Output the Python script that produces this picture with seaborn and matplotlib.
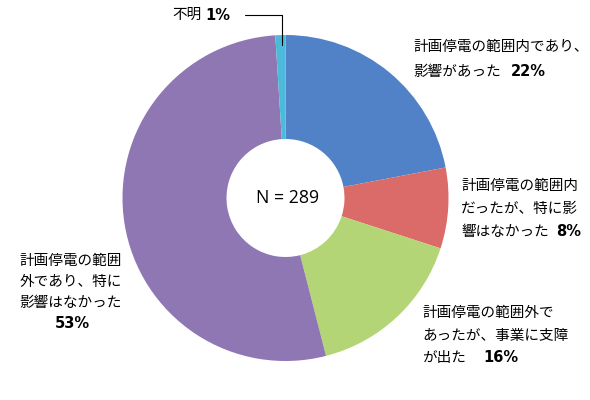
import numpy as np
import matplotlib
matplotlib.use("Agg")
import matplotlib.pyplot as plt
import seaborn as sns

sns.set_theme(style="white")
plt.rcParams['font.family'] = ['Noto Sans CJK JP', 'DejaVu Sans']
plt.rcParams['text.color'] = 'black'

# データ
labels = [["計画停電の範囲内であり、", "影響があった"],
          ["計画停電の範囲内", "だったが、特に影", "響はなかった"],
          ["計画停電の範囲外で", "あったが、事業に支障", "が出た"],
          ["計画停電の範囲", "外であり、特に", "影響はなかった"],
          ["不明"]]
values = [22, 8, 16, 53, 1]
colors = ["#5182C8", "#DB6B69", "#B3D575", "#8E77B3", "#4EBAD9"]
n_total = 289

W, H = 590, 400
fig = plt.figure(figsize=(W / 100, H / 100), dpi=100)

# 円の中心と半径(ピクセル)
cx, cy, r = 285.5, 198, 163
ax = fig.add_axes([(cx - r) / W, (H - cy - r) / H, 2 * r / W, 2 * r / H])
ax.pie(values, colors=colors, startangle=90, counterclock=False, radius=1,
       wedgeprops=dict(width=1 - 59 / r, linewidth=0))
ax.set_xlim(-1, 1)
ax.set_ylim(-1, 1)
ax.set_aspect('equal')
ax.axis('off')

ax.text(0.01, 0, f"N = {n_total}", ha='center', va='center', fontsize=12.8,
        family=['Open Sans', 'DejaVu Sans'])


def fx(px):
    return px / W


def fy(py):
    return 1 - py / H


fs = 10.5
pfs = 10.5

# ラベル位置 (左端x, 各行のy, パーセントのx, 揃え)
pos = [
    (413, [47, 72], 511, 'left'),
    (461, [186, 209, 232], 556, 'left'),
    (422, [313, 336, 358], 483, 'left'),
    (71, [261, 282, 303], None, 'center'),
    (172, [15], 205, 'left'),
]

for i, (x, ys, px, ha) in enumerate(pos):
    for line, y in zip(labels[i], ys):
        fig.text(fx(x), fy(y), line, ha=ha, va='center', fontsize=fs)
    pct = f"{values[i]}%"
    if px is None:
        fig.text(fx(72), fy(323), pct, ha='center', va='center', fontsize=pfs,
                 weight='bold', family=['DejaVu Sans'])
    else:
        fig.text(fx(px), fy(ys[-1]), pct, ha='left', va='center', fontsize=pfs,
                 weight='bold', family=['DejaVu Sans'])

# 不明の引き出し線
fig.add_artist(plt.Line2D([fx(245), fx(282), fx(282)], [fy(15), fy(15), fy(45)],
                          color='black', linewidth=0.8))

fig.savefig("out.png", dpi=100, facecolor='white')
